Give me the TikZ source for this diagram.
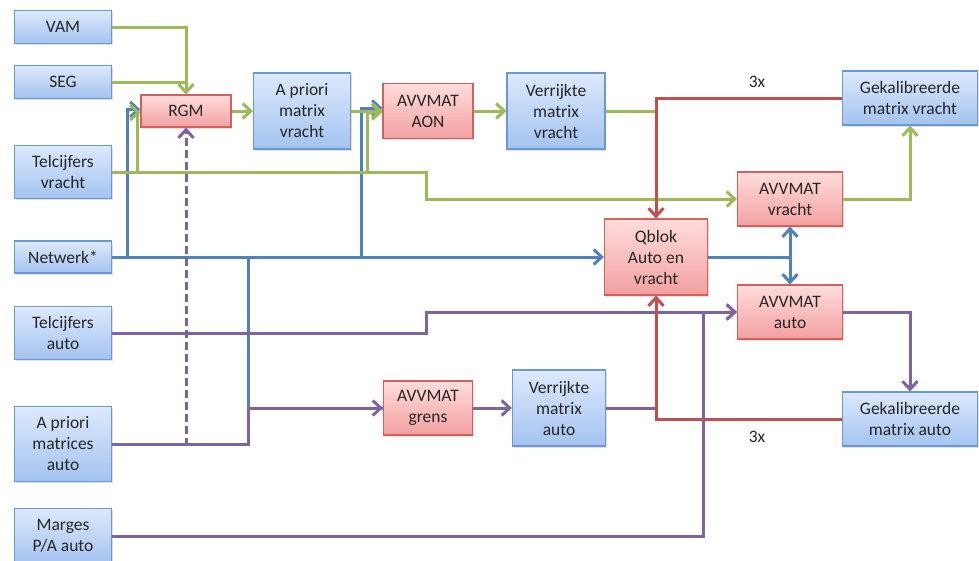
\documentclass[tikz,border=0pt]{standalone}
\usepackage{fontspec}
\setmainfont{Carlito}
\usetikzlibrary{arrows.meta,shadows}

\definecolor{lijngroen}{HTML}{9BBB59}
\definecolor{lijnblauw}{HTML}{4F81BD}
\definecolor{lijnrood}{HTML}{C0504D}
\definecolor{lijnpaars}{HTML}{8064A2}
\definecolor{blauwboven}{HTML}{DDE9FC}
\definecolor{blauwonder}{HTML}{A3C3F0}
\definecolor{blauwrand}{HTML}{6C98D2}
\definecolor{roodboven}{HTML}{FFDCDC}
\definecolor{roodonder}{HTML}{F3A0A0}
\definecolor{roodrand}{HTML}{D2605D}

\tikzset{
  blok/.style={draw, line width=1.2pt, align=center, inner sep=2pt,
    font=\fontsize{17.5}{21}\selectfont, text=black!85,
    drop shadow={opacity=0.25, shadow xshift=1pt, shadow yshift=-1.5pt}},
  blauwblok/.style={blok, draw=blauwrand, top color=blauwboven, bottom color=blauwonder},
  roodblok/.style={blok, draw=roodrand, top color=roodboven, bottom color=roodonder},
  bron/.style={blauwblok, minimum width=97pt},
  groen/.style={draw=lijngroen, line width=3pt},
  blauw/.style={draw=lijnblauw, line width=3pt},
  rood/.style={draw=lijnrood, line width=3pt},
  paars/.style={draw=lijnpaars, line width=3pt},
}

\begin{document}
\begin{tikzpicture}[x=1pt, y=-1pt, >={Straight Barb[length=8pt,width=15pt]}]
    \useasboundingbox (0,0) rectangle (979,560);
    % bronnen links
    \node[bron, minimum height=33pt] (vam) at (63,27) {VAM};
    \node[bron, minimum height=33pt] (seg) at (63,82) {SEG};
    \node[bron, minimum height=53pt] (tv) at (63,172) {Telcijfers\\vracht};
    \node[bron, minimum height=32pt] (net) at (63,257) {Netwerk*};
    \node[bron, minimum height=53pt] (ta) at (63,333) {Telcijfers\\auto};
    \node[bron, minimum height=75pt] (apa) at (63,444) {A priori\\matrices\\auto};
    \node[bron, minimum height=55pt] (mpa) at (63,536) {Marges\\P/A auto};
    % vracht
    \node[roodblok, minimum width=90pt, minimum height=32pt] (rgm) at (186,111) {RGM};
    \node[blauwblok, minimum width=97pt, minimum height=76pt] (apv) at (302,111) {A priori\\matrix\\vracht};
    \node[roodblok, minimum width=90pt, minimum height=55pt] (aon) at (428,111) {AVVMAT\\AON};
    \node[blauwblok, minimum width=98pt, minimum height=76pt] (vmv) at (556,111) {Verrijkte\\matrix\\vracht};
    \node[blauwblok, minimum width=135pt, minimum height=54pt] (gmv) at (910,98) {Gekalibreerde\\matrix vracht};
    \node[roodblok, minimum width=105pt, minimum height=54pt] (avv) at (790,199) {AVVMAT\\vracht};
    % midden
    \node[roodblok, minimum width=103pt, minimum height=76pt] (qblok) at (656,257) {Qblok\\Auto en\\vracht};
    % auto
    \node[roodblok, minimum width=105pt, minimum height=54pt] (ava) at (790,312) {AVVMAT\\auto};
    \node[roodblok, minimum width=89pt, minimum height=54pt] (avg) at (428,408) {AVVMAT\\grens};
    \node[blauwblok, minimum width=93pt, minimum height=76pt] (vma) at (559,408) {Verrijkte\\matrix\\auto};
    \node[blauwblok, minimum width=135pt, minimum height=54pt] (gma) at (910,419) {Gekalibreerde\\matrix auto};
    % 3x
    \node[font=\fontsize{17.5}{21}\selectfont, text=black!85] (iter1) at (757,82) {3x};
    \node[font=\fontsize{17.5}{21}\selectfont, text=black!85] (iter2) at (757,437) {3x};
    % netwerk
    \draw[blauw,->] (net) -- (qblok);
    \draw[blauw,->] (net.east) -- ++(15,0) |- ([yshift=1.5pt]rgm.west);
    \draw[blauw,->] (net.east) -- ++(249,0) |- ([yshift=3pt]aon.west);
    \draw[blauw] (net.east) -- ++(136,0) |- (avg.west);
    \draw[blauw,->] (qblok) -| (avv);
    \draw[blauw,->] (qblok) -| (ava);
    % vracht
    \draw[groen,->] (vam) -| (rgm);
    \draw[groen] (seg) -- (seg -| rgm);
    \draw[groen,->] (tv.east) -- ++(25,0) |- ([yshift=-1.5pt]rgm.west);
    \draw[groen,->] (tv.east) -- ++(255,0) |- ([yshift=-1pt]aon.west);
    \draw[groen,->] (tv.east) -- ++(314,0) |- (avv.west);
    \draw[groen,->] (rgm) -- (apv);
    \draw[groen,->] (apv) -- (aon);
    \draw[groen,->] (aon) -- (vmv);
    \draw[groen] (vmv) -- (vmv -| qblok);
    \draw[groen,->] (avv) -| (gmv);
    % auto
    \draw[paars,->] (ta.east) -- ++(314,0) |- (ava.west);
    \draw[paars,->] (apa.east) -- ++(136,0) |- (avg.west);
    \draw[paars,dash pattern=on 8pt off 4pt,->] (apa.east) -| (rgm.south);
    \draw[paars,->] (avg) -- (vma);
    \draw[paars] (vma) -- (vma -| qblok);
    \draw[paars,->] (ava) -| (gma);
    % terugkoppeling
    \draw[rood,->] (gmv) -| (qblok);
    \draw[rood,->] (gma) -| (qblok);
    \draw[paars,->] (mpa.east) -- ++(591,0) |- (ava.west);
\end{tikzpicture}
\end{document}
